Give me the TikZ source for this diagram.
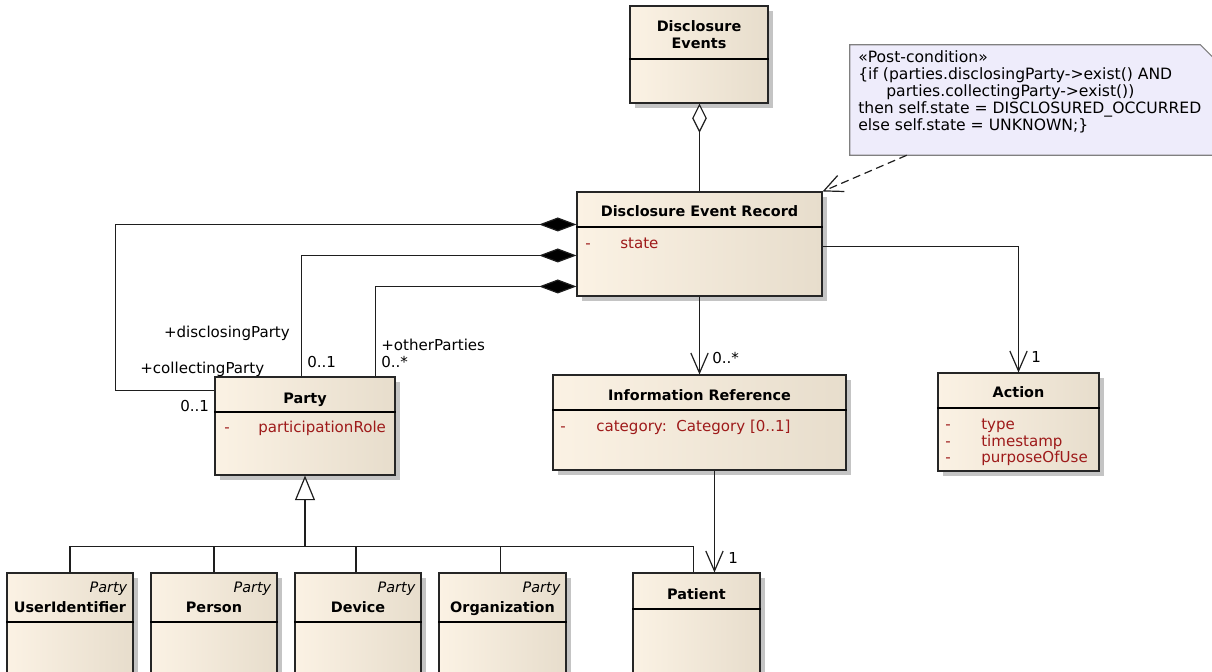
\documentclass[tikz,border=0pt]{standalone}
\usepackage{fontspec}
\setmainfont{DejaVu Sans}
\usetikzlibrary{arrows.meta,calc,fit,shadows}

\definecolor{boxleft}{RGB}{251,242,228}
\definecolor{boxright}{RGB}{231,221,204}
\definecolor{attrred}{RGB}{158,26,26}
\definecolor{notefill}{RGB}{238,236,251}
\definecolor{noteline}{RGB}{128,128,128}
\definecolor{shadowgrey}{RGB}{196,196,196}
\definecolor{lineclr}{RGB}{30,30,30}

\begin{document}
\begin{tikzpicture}[x=0.75pt,y=-0.75pt,
  classbox/.style={draw=black!85, line width=0.8pt, inner sep=0pt,
    left color=boxleft, right color=boxright,
    drop shadow={shadow xshift=3.5pt, shadow yshift=-3.5pt, fill=shadowgrey, opacity=1}},
  sepline/.style={draw=black, line width=1.5pt},
  txt/.style={font=\fontsize{11.3}{13}\selectfont, inner sep=0pt},
  title/.style={txt, font=\fontsize{10.8}{13}\selectfont\bfseries, anchor=base},
  attr/.style={txt, text=attrred, anchor=base west},
  lbl/.style={txt, anchor=base west},
  notetxt/.style={lbl, font=\fontsize{11.7}{13}\selectfont},
  stereo/.style={txt, font=\fontsize{10.8}{13}\selectfont\itshape, anchor=base east},
  conn/.style={draw=lineclr, line width=0.9pt},
  nav/.style={conn, -{Straight Barb[length=15pt,width=13pt]}},
  comp/.style={conn, -{Diamond[length=28pt,width=10.5pt,fill=black]}},
  aggr/.style={conn, -{Diamond[open,length=22pt,width=11pt,fill=white]}},
  gen/.style={conn, -{Triangle[open,length=18.5pt,width=15pt,fill=white]}},
  dep/.style={conn, dash pattern=on 6pt off 3.5pt, -{Straight Barb[length=14pt,width=13pt]}},
]
\useasboundingbox (0,0) rectangle (1212,671);

% ---- class boxes ----
\node[classbox, fit={(630,6) (768,103)}] (de) {};
\node[classbox, fit={(577,192) (822,296)}] (der) {};
\node[classbox, fit={(553,375) (846,470)}] (ir) {};
\node[classbox, fit={(938,373) (1099,471)}] (act) {};
\node[classbox, fit={(215,377) (395,475)}] (party) {};
\node[classbox, fit={(7,573) (133,690)}] (ui) {};
\node[classbox, fit={(151,573) (277,690)}] (person) {};
\node[classbox, fit={(295,573) (421,690)}] (device) {};
\node[classbox, fit={(439,573) (566,690)}] (org) {};
\node[classbox, fit={(633,573) (760,690)}] (patient) {};

% ---- compartment separators ----
\draw[sepline] ($(de.north west)+(0,54)$) -- ($(de.north east)+(0,54)$);
\draw[sepline] ($(der.north west)+(0,36)$) -- ($(der.north east)+(0,36)$);
\draw[sepline] ($(ir.north west)+(0,36)$) -- ($(ir.north east)+(0,36)$);
\draw[sepline] ($(act.north west)+(0,36)$) -- ($(act.north east)+(0,36)$);
\draw[sepline] ($(party.north west)+(0,36)$) -- ($(party.north east)+(0,36)$);
\draw[sepline] ($(ui.north west)+(0,50)$) -- ($(ui.north east)+(0,50)$);
\draw[sepline] ($(person.north west)+(0,50)$) -- ($(person.north east)+(0,50)$);
\draw[sepline] ($(device.north west)+(0,50)$) -- ($(device.north east)+(0,50)$);
\draw[sepline] ($(org.north west)+(0,50)$) -- ($(org.north east)+(0,50)$);
\draw[sepline] ($(patient.north west)+(0,37)$) -- ($(patient.north east)+(0,37)$);

% ---- class names and attributes ----
\node[title] (deT1) at ($(de.north)+(0,26)$) {Disclosure};
\node[title] (deT2) at ($(de.north)+(0,43)$) {Events};

\node[title] (derT) at ($(der.north)+(0,25)$) {Disclosure Event Record};
\node[attr] (derA0) at (585,248) {-};
\node[attr] (derA1) at (620,248) {state};

\node[title] (irT) at ($(ir.north)+(0,26)$) {Information Reference};
\node[attr] (irA0) at (560,431) {-};
\node[attr] (irA1) at (596,431) {category:\ \ Category [0..1]};

\node[title] (actT) at ($(act.north)+(0,25)$) {Action};
\node[attr] (actA0) at (945,429) {-};
\node[attr] (actA1) at (981,429) {type};
\node[attr] (actB0) at (945,446) {-};
\node[attr] (actB1) at (981,446) {timestamp};
\node[attr] (actC0) at (945,462) {-};
\node[attr] (actC1) at (981,462) {purposeOfUse};

\node[title] (partyT) at ($(party.north)+(0,27)$) {Party};
\node[attr] (partyA0) at (224,432) {-};
\node[attr] (partyA1) at (258,432) {participationRole};

\node[stereo] (uiS) at ($(ui.north east)+(-6,20)$) {Party};
\node[title] (uiT) at ($(ui.north)+(0,40)$) {UserIdentifier};
\node[stereo] (personS) at ($(person.north east)+(-6,20)$) {Party};
\node[title] (personT) at ($(person.north)+(0,40)$) {Person};
\node[stereo] (deviceS) at ($(device.north east)+(-6,20)$) {Party};
\node[title] (deviceT) at ($(device.north)+(0,40)$) {Device};
\node[stereo] (orgS) at ($(org.north east)+(-6,20)$) {Party};
\node[title] (orgT) at ($(org.north)+(0,40)$) {Organization};
\node[title] (patientT) at ($(patient.north)+(0,27)$) {Patient};

% ---- post-condition note ----
\node[inner sep=0pt, fit={(850,45) (1216,155)}] (note) {};
\filldraw[fill=notefill, draw=noteline, line width=0.8pt]
  (note.south west) -- (note.north west) -- ($(note.north east)+(-16,0)$)
  -- ($(note.north east)+(0,16)$) -- (note.south east) -- cycle;
\node[notetxt] (noteL1) at (858,62) {«Post-condition»};
\node[notetxt] (noteL2) at (858,79) {\{if (parties.disclosingParty->exist() AND};
\node[notetxt] (noteL3) at (886,96) {parties.collectingParty->exist())};
\node[notetxt] (noteL4) at (858,113) {then self.state = DISCLOSURED\_OCCURRED};
\node[notetxt] (noteL5) at (858,130) {else self.state = UNKNOWN;\}};

% ---- connectors ----
\draw[aggr] (der.north) -- (der.north |- de.south);

\coordinate (noteout) at ($(note.south west)+(57,0)$);
\draw[dep] (noteout) -- (der.north east);

\draw[comp] ($(party.north west)+(0,14)$) -- ++(-99,0) |- ($(der.north west)+(0,33)$);
\draw[comp] ($(party.north west)+(87,0)$) |- ($(der.north west)+(0,64)$);
\draw[comp] ($(party.north west)+(161,0)$) |- ($(der.north west)+(0,95)$);

\draw[nav] (der.south) -- (der.south |- ir.north);
\draw[nav] ($(der.north east)+(0,55)$) -| (act.north);

\coordinate (irout) at ($(ir.south west)+(162,0)$);
\draw[nav] (irout) -- (irout |- patient.north);

% generalization tree: one bus joining all the specialisations
\coordinate (bus) at ($(party.south)+(0,71)$);
\coordinate (patin) at ($(patient.north)+(-3,0)$);
\draw[gen] (bus) -- (party.south);
\draw[conn] (ui.north) |- (patin |- bus) -- (patin);
\draw[conn] (person.north) -- (person.north |- bus);
\draw[conn] ($(device.north)+(-2,0)$) coordinate (devin) -- (devin |- bus);
\draw[conn] ($(org.north)+(-2,0)$) coordinate (orgin) -- (orgin |- bus);

% ---- role names and multiplicities ----
\node[lbl, anchor=base east] (rDisc) at (290,337) {+disclosingParty};
\node[lbl] (rColl) at (140,373) {+collectingParty};
\node[lbl] (mColl) at (180,411) {0..1};
\node[lbl] (mDisc) at (307,367) {0..1};
\node[lbl] (rOther) at (381,350) {+otherParties};
\node[lbl] (mOther) at (381,367) {0..*};
\node[lbl] (mIr) at (712,363) {0..*};
\node[lbl] (mAct) at (1031,362) {1};
\node[lbl] (mPat) at (728,563) {1};
\end{tikzpicture}
\end{document}
